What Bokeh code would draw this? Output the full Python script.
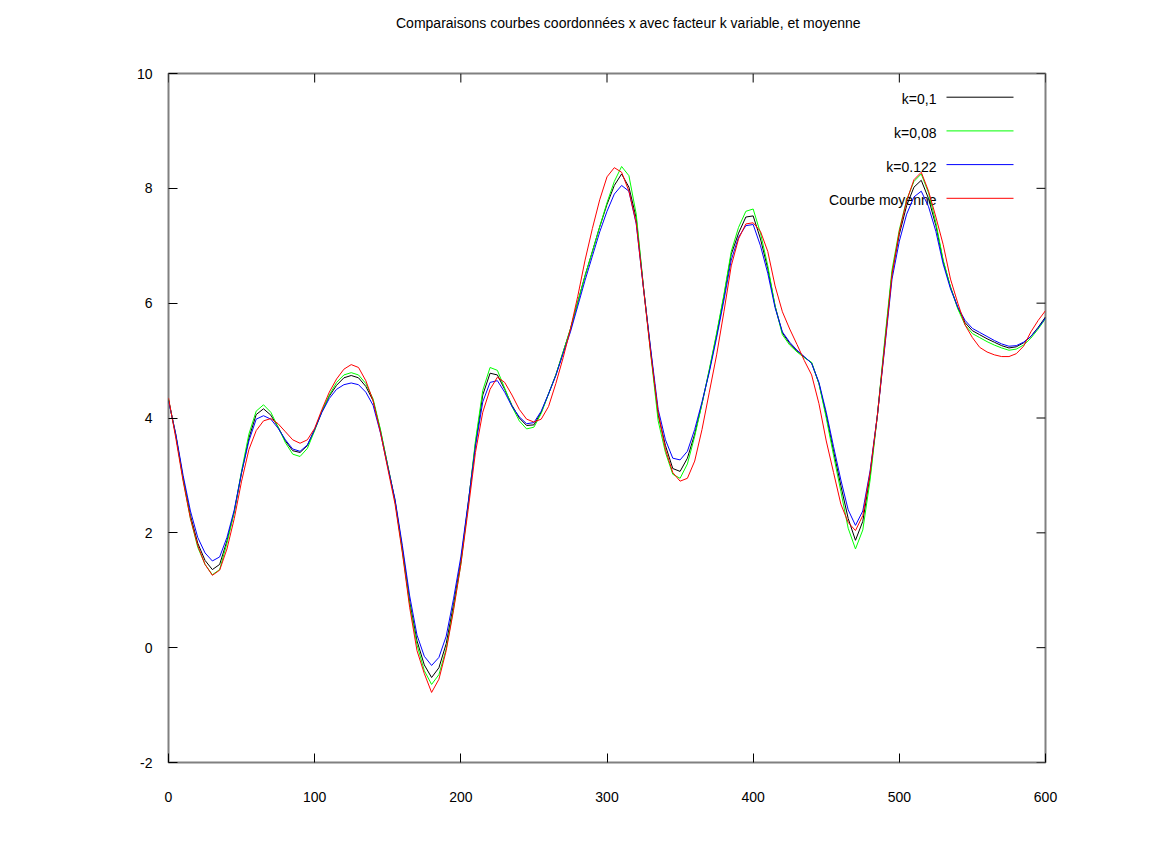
from bokeh.plotting import figure
from bokeh.models import Range1d, SingleIntervalTicker, Div
from bokeh.layouts import column
from bokeh.core.properties import value
from bokeh.embed import file_html
from bokeh.resources import INLINE

# ---------------- data ----------------
x = list(range(0, 601, 5))

k_010 = [4.32, 3.70, 2.95, 2.30, 1.82, 1.52, 1.36, 1.45, 1.86, 2.37,
         3.05, 3.65, 4.06, 4.16, 4.05, 3.84, 3.60, 3.43, 3.40, 3.52,
         3.80, 4.12, 4.38, 4.57, 4.70, 4.74, 4.70, 4.55, 4.30, 3.78,
         3.17, 2.56, 1.72, 0.80, 0.12, -0.30, -0.52, -0.35, 0.07, 0.75,
         1.50, 2.50, 3.55, 4.40, 4.78, 4.75, 4.50, 4.22, 4.00, 3.87,
         3.88, 4.10, 4.42, 4.75, 5.15, 5.55, 6.02, 6.48, 6.90, 7.33,
         7.72, 8.05, 8.25, 8.02, 7.48, 6.27, 5.15, 4.05, 3.52, 3.12,
         3.07, 3.30, 3.72, 4.25, 4.83, 5.45, 6.12, 6.85, 7.22, 7.50,
         7.52, 7.12, 6.60, 5.95, 5.48, 5.30, 5.17, 5.06, 4.96, 4.60,
         4.05, 3.42, 2.82, 2.25, 1.87, 2.20, 3.00, 4.05, 5.30, 6.52,
         7.20, 7.70, 8.02, 8.14, 7.82, 7.35, 6.73, 6.28, 5.92, 5.66,
         5.52, 5.45, 5.38, 5.32, 5.26, 5.22, 5.24, 5.31, 5.42, 5.58, 5.76]

k_008 = [4.32, 3.70, 2.93, 2.25, 1.75, 1.45, 1.27, 1.36, 1.82, 2.37,
         3.08, 3.72, 4.12, 4.23, 4.10, 3.84, 3.57, 3.37, 3.33, 3.47,
         3.78, 4.12, 4.40, 4.62, 4.75, 4.79, 4.75, 4.60, 4.33, 3.80,
         3.17, 2.55, 1.68, 0.75, 0.05, -0.40, -0.64, -0.47, -0.02, 0.68,
         1.45, 2.48, 3.60, 4.48, 4.88, 4.83, 4.52, 4.20, 3.95, 3.81,
         3.84, 4.08, 4.42, 4.75, 5.15, 5.55, 6.02, 6.48, 6.90, 7.33,
         7.75, 8.12, 8.38, 8.22, 7.55, 6.27, 5.10, 3.95, 3.40, 3.02,
         2.95, 3.20, 3.68, 4.25, 4.85, 5.48, 6.15, 6.90, 7.32, 7.60,
         7.64, 7.22, 6.65, 5.95, 5.45, 5.27, 5.15, 5.05, 4.97, 4.60,
         4.00, 3.35, 2.72, 2.08, 1.72, 2.05, 2.92, 4.05, 5.35, 6.58,
         7.28, 7.80, 8.12, 8.25, 7.92, 7.40, 6.75, 6.28, 5.90, 5.62,
         5.47, 5.40, 5.33, 5.27, 5.22, 5.18, 5.20, 5.27, 5.39, 5.55, 5.73]

k_0122 = [4.30, 3.72, 3.00, 2.38, 1.92, 1.65, 1.51, 1.58, 1.92, 2.40,
          3.05, 3.60, 3.98, 4.04, 3.98, 3.82, 3.62, 3.46, 3.42, 3.53,
          3.80, 4.10, 4.34, 4.50, 4.58, 4.61, 4.58, 4.45, 4.22, 3.74,
          3.15, 2.58, 1.78, 0.90, 0.22, -0.15, -0.31, -0.17, 0.20, 0.85,
          1.58, 2.52, 3.50, 4.28, 4.62, 4.65, 4.45, 4.20, 4.02, 3.90,
          3.92, 4.12, 4.42, 4.74, 5.12, 5.50, 5.95, 6.40, 6.82, 7.24,
          7.60, 7.90, 8.05, 7.95, 7.38, 6.25, 5.18, 4.15, 3.62, 3.30,
          3.27, 3.42, 3.80, 4.28, 4.80, 5.40, 6.05, 6.75, 7.15, 7.35,
          7.37, 7.00, 6.52, 5.92, 5.50, 5.32, 5.18, 5.07, 4.95, 4.62,
          4.10, 3.50, 2.92, 2.40, 2.13, 2.38, 3.08, 4.05, 5.22, 6.42,
          7.08, 7.55, 7.85, 7.95, 7.68, 7.25, 6.68, 6.25, 5.93, 5.70,
          5.56, 5.49, 5.42, 5.35, 5.29, 5.25, 5.26, 5.32, 5.42, 5.57, 5.74]

moyenne = [4.35, 3.65, 2.90, 2.25, 1.78, 1.45, 1.26, 1.35, 1.72, 2.25,
           2.90, 3.45, 3.78, 3.95, 3.99, 3.90, 3.76, 3.62, 3.56, 3.62,
           3.82, 4.15, 4.45, 4.68, 4.85, 4.93, 4.88, 4.65, 4.30, 3.75,
           3.12, 2.50, 1.65, 0.70, -0.05, -0.45, -0.78, -0.55, -0.05, 0.65,
           1.45, 2.40, 3.40, 4.10, 4.50, 4.71, 4.62, 4.40, 4.15, 3.98,
           3.93, 3.98, 4.20, 4.60, 5.05, 5.55, 6.12, 6.75, 7.30, 7.80,
           8.20, 8.36, 8.28, 7.95, 7.40, 6.25, 5.10, 4.10, 3.45, 3.05,
           2.90, 2.95, 3.25, 3.80, 4.45, 5.10, 5.85, 6.65, 7.12, 7.38,
           7.40, 7.25, 6.90, 6.30, 5.85, 5.55, 5.28, 5.00, 4.75, 4.25,
           3.60, 3.05, 2.50, 2.18, 2.04, 2.30, 3.05, 4.05, 5.25, 6.50,
           7.25, 7.78, 8.15, 8.28, 7.95, 7.50, 7.02, 6.42, 6.00, 5.62,
           5.40, 5.23, 5.15, 5.10, 5.07, 5.07, 5.12, 5.25, 5.50, 5.70, 5.87]

series_names = ["k=0,1", "k=0,08", "k=0.122", "Courbe moyenne"]
series_values = [k_010, k_008, k_0122, moyenne]
series_colors = ["#000000", "#00ff00", "#0000ff", "#ff0000"]

TITLE = "Comparaisons courbes coordonnées x avec facteur k variable, et moyenne"
x_ticks = [0, 100, 200, 300, 400, 500, 600]
y_ticks = [-2, 0, 2, 4, 6, 8, 10]

# ---------------- style / layout ----------------
FONT = "Liberation Sans"
FS = "14px"
W, H = 1168, 859
TITLE_H = 40                     # height of the title strip above the figure
FRAME_L, FRAME_T, FRAME_R, FRAME_B = 168, 73, 1045, 762   # page coordinates
X0, X1, Y0, Y1 = 0, 600, -2, 10
TICK = 9
PX_PER_X = (FRAME_R - FRAME_L) / (X1 - X0)
PX_PER_Y = (FRAME_B - FRAME_T) / (Y1 - Y0)


def px_to_x(px):
    return X0 + (px - FRAME_L) / PX_PER_X


def py_to_y(py):
    return Y0 + (FRAME_B - py) / PX_PER_Y


# title strip
title_div = Div(
    text=(f'<div style="padding:15px 0 0 396px; font-family:\'{FONT}\'; font-size:{FS}; '
          f'line-height:16px; color:#000000; white-space:nowrap;">{TITLE}</div>'),
    width=W, height=TITLE_H, margin=0)

p = figure(width=W, height=H - TITLE_H,
           x_range=Range1d(X0, X1), y_range=Range1d(Y0, Y1),
           output_backend="svg", toolbar_location=None,
           min_border_left=FRAME_L, min_border_right=W - FRAME_R,
           min_border_top=FRAME_T - TITLE_H, min_border_bottom=H - FRAME_B,
           margin=0)
p.grid.visible = False
p.outline_line_color = "#808080"
p.outline_line_width = 2
p.background_fill_color = "white"
p.border_fill_color = "white"


def style_axis(ax, interval, standoff):
    ax.ticker = SingleIntervalTicker(interval=interval)
    ax.axis_line_color = None
    ax.major_tick_in = TICK
    ax.major_tick_out = 0
    ax.major_tick_line_color = "#000000"
    ax.major_tick_line_width = 1
    ax.minor_tick_line_color = None
    ax.major_label_text_font = FONT
    ax.major_label_text_font_size = FS
    ax.major_label_text_color = "#000000"
    ax.major_label_standoff = standoff


style_axis(p.xaxis[0], 100, 25)
style_axis(p.yaxis[0], 2, 12)
p.xaxis[0].major_label_overrides = {t: str(t) for t in x_ticks}
p.yaxis[0].major_label_overrides = {t: str(t) for t in y_ticks}

# mirrored inward ticks on top and right edges (gnuplot style)
dy_tick = TICK / PX_PER_Y
dx_tick = TICK / PX_PER_X
p.segment(x0=x_ticks, y0=[Y1] * len(x_ticks), x1=x_ticks, y1=[Y1 - dy_tick] * len(x_ticks),
          line_color="#000000", line_width=1)
p.segment(x0=[X1] * len(y_ticks), y0=y_ticks, x1=[X1 - dx_tick] * len(y_ticks), y1=y_ticks,
          line_color="#000000", line_width=1)

# legend (gnuplot style: label right-aligned, sample line on its right)
LEG_TEXT_PX = 936
LEG_LINE_PX0, LEG_LINE_PX1 = 946, 1013
LEG_ROW_PY0, LEG_ROW_DPY = 96.7, 33.7
leg_y = [py_to_y(LEG_ROW_PY0 + i * LEG_ROW_DPY) for i in range(len(series_names))]

p.text(x=[px_to_x(LEG_TEXT_PX)] * len(series_names), y=leg_y, text=series_names,
       text_align="right", text_baseline="middle", y_offset=2,
       text_font=value(FONT), text_font_size=FS, text_color="#000000")

for vals, col in zip(series_values, series_colors):
    p.line(x, vals, line_color=col, line_width=1)

for ly, col in zip(leg_y, series_colors):
    p.line([px_to_x(LEG_LINE_PX0), px_to_x(LEG_LINE_PX1)], [ly, ly],
           line_color=col, line_width=1)

page = column(title_div, p, spacing=0, margin=0)

open("out.html", "w").write(file_html(page, INLINE))
